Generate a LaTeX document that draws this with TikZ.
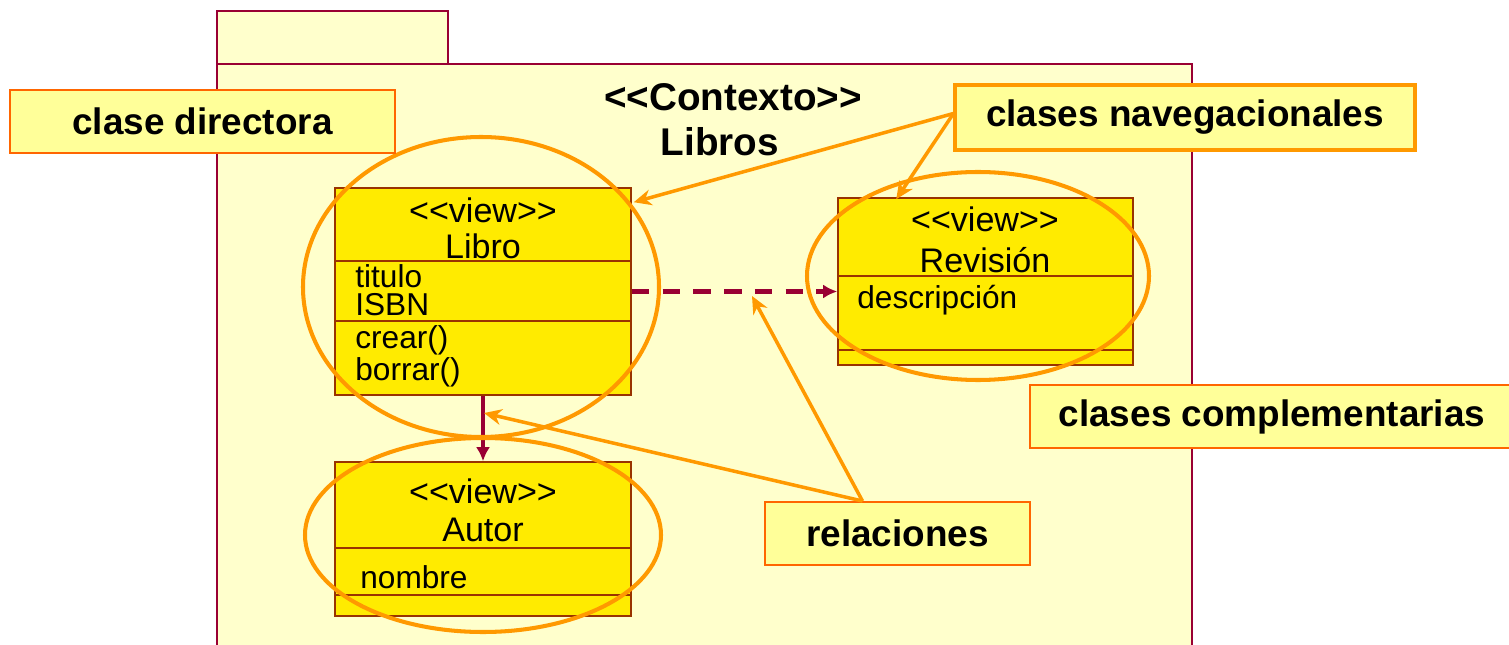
\documentclass[tikz,border=0pt]{standalone}
\usepackage{fontspec}
\setmainfont{Liberation Sans}
\usetikzlibrary{calc,arrows.meta}

\definecolor{pkgfill}{HTML}{FFFFCC}
\definecolor{pkgline}{HTML}{990033}
\definecolor{classfill}{HTML}{FFEB00}
\definecolor{classline}{HTML}{993300}
\definecolor{notefill}{HTML}{FFFF99}
\definecolor{noteline}{HTML}{FF6600}
\definecolor{ovalline}{HTML}{FF9900}

\newcommand{\stereo}[1]{<\kern0pt<#1>\kern0pt>}% keeps << >> from turning into guillemets
\newcommand{\classfont}{\fontsize{18}{16.5}\selectfont}
\newcommand{\headfont}{\fontsize{19.4}{22}\selectfont}
\newcommand{\notefont}{\fontsize{21}{24}\selectfont\bfseries}

\begin{document}
\begin{tikzpicture}[x=0.02cm, y=-0.02cm,
    classbox/.style={draw=classline, fill=classfill, line width=0.9pt, inner sep=0pt},
    note/.style={draw=noteline, fill=notefill, line width=1.1pt, inner sep=0pt, font=\notefont},
    oval/.style={draw=ovalline, line width=2.3pt},
    relation/.style={draw=pkgline, line width=2.4pt, -{Latex[length=8pt,width=8pt]}},
    pointer/.style={draw=ovalline, line width=2pt, -{Stealth[length=10pt,width=9pt]}},
    head/.style={inner sep=0pt, font=\headfont},
    txt/.style={inner sep=0pt, font=\classfont, align=left, anchor=base west}]
    \useasboundingbox (0,0) rectangle (1509,645);

    % package with its tab
    \draw [pkgline, fill=pkgfill, line width=1.2pt] (217,11) rectangle (448,64);
    \draw [pkgline, fill=pkgfill, line width=1.2pt] (217,64) rectangle (1192,720);
    \node [inner sep=0pt, font=\fontsize{22}{26}\selectfont\bfseries] (ctxSt) at (733,97) {\stereo{Contexto}};
    \node [inner sep=0pt, font=\fontsize{22}{26}\selectfont\bfseries] (ctxName) at (720,142) {Libros};

    % the three classes
    \node [classbox, minimum width=5.92cm, minimum height=4.14cm] (libro) at (483,291.5) {};
    \node [classbox, minimum width=5.9cm, minimum height=3.34cm] (revision) at (985.5,281.5) {};
    \node [classbox, minimum width=5.92cm, minimum height=3.08cm] (autor) at (483,539) {};
    \draw [classline, line width=0.9pt] ($(libro.north west)+(0,74)$) -- ($(libro.north east)+(0,74)$);
    \draw [classline, line width=0.9pt] ($(libro.north west)+(0,134)$) -- ($(libro.north east)+(0,134)$);
    \draw [classline, line width=0.9pt] ($(revision.north west)+(0,79)$) -- ($(revision.north east)+(0,79)$);
    \draw [classline, line width=0.9pt] ($(revision.north west)+(0,153)$) -- ($(revision.north east)+(0,153)$);
    \draw [classline, line width=0.9pt] ($(autor.north west)+(0,87)$) -- ($(autor.north east)+(0,87)$);
    \draw [classline, line width=0.9pt] ($(autor.north west)+(0,134)$) -- ($(autor.north east)+(0,134)$);

    \node [head] (libroSt) at (483,210) {\stereo{view}};
    \node [head] (libroName) at (483,246) {Libro};
    \node [txt] (libroAttr) at (355,316) {titulo\\ISBN};
    \node [txt] (libroOps) at (355,380) {crear()\\borrar()};

    \node [head] (revSt) at (985,219) {\stereo{view}};
    \node [head] (revName) at (985,260) {Revisión};
    \node [txt] (revAttr) at (857,309) {descripción};

    \node [head] (autorSt) at (483,491) {\stereo{view}};
    \node [head] (autorName) at (483,530) {Autor};
    \node [txt] (autorAttr) at (360,588) {nombre};

    % relations between classes
    \draw [relation, dash pattern=on 10pt off 7.5pt] (libro.east) -- (libro.east -| revision.west);
    \draw [relation] (libro.south) -- (autor.north);

    % the ovals round the classes
    \draw [oval] (481,287) ellipse [x radius=178, y radius=150];
    \draw [oval] (978,276) ellipse [x radius=171, y radius=104];
    \draw [oval] (483,535) ellipse [x radius=178, y radius=97];

    % notes
    \node [note, minimum width=7.7cm, minimum height=1.26cm] (directora) at (202.5,121.5) {clase directora};
    \node [note, draw=ovalline, line width=1.8pt, minimum width=9.2cm, minimum height=1.3cm] (navegacion) at (1185,117.5) {clases navegacionales};
    \node [note, minimum width=9.68cm, minimum height=1.26cm] (complemento) at (1272,416.5) {clases complementarias};
    \node [note, minimum width=5.3cm, minimum height=1.26cm] (relaciones) at (897.5,533.5) {relaciones};

    % pointers from the notes
    \coordinate (navTip) at ($(navegacion.west)+(0,-4)$);
    \coordinate (relTip) at ($(relaciones.north)+(-35,0)$);
    \coordinate (libroHit) at ($(libro.north east)+(2,15)$);
    \coordinate (revHit) at ($(revision.north west)+(59,2)$);
    \coordinate (dashHit) at (752,296);
    \coordinate (solidHit) at (484,413);
    \draw [pointer] (navTip) -- (libroHit);
    \draw [pointer] (navTip) -- (revHit);
    \draw [pointer] (relTip) -- (dashHit);
    \draw [pointer] (relTip) -- (solidHit);
\end{tikzpicture}
\end{document}
